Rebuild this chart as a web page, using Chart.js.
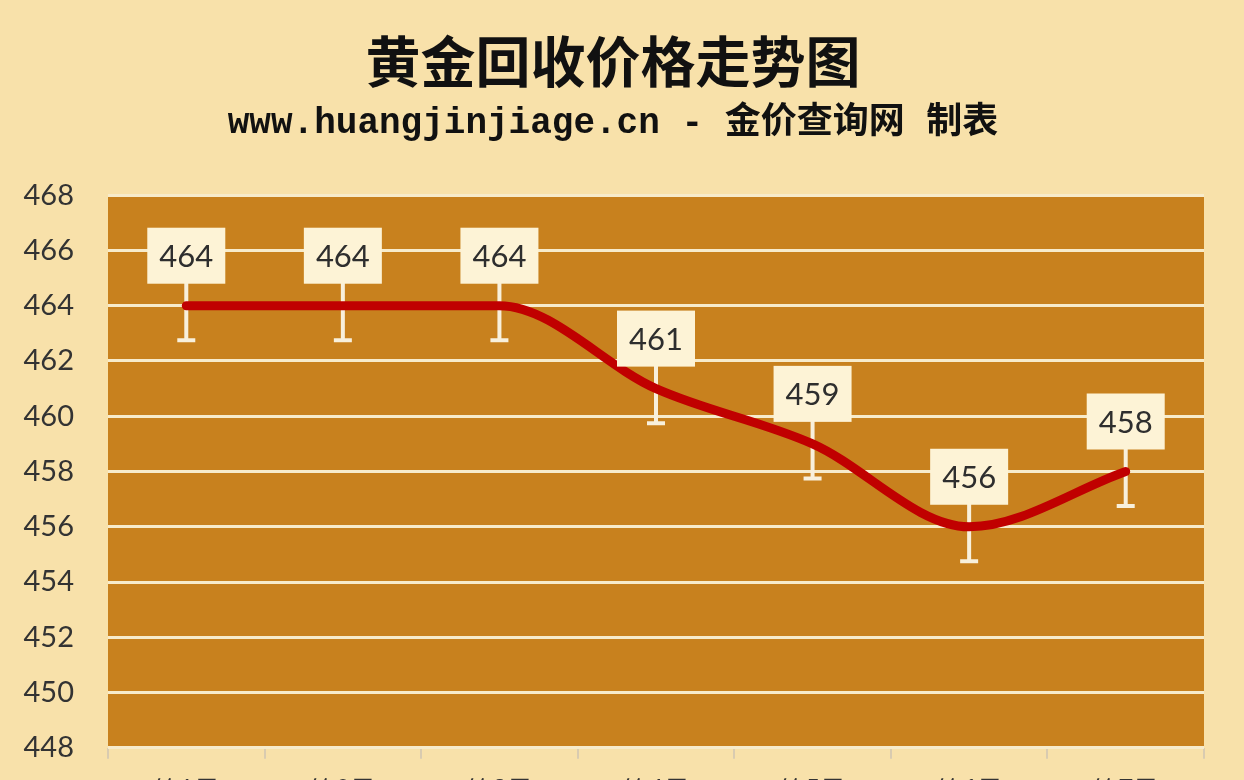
<!DOCTYPE html>
<html>
<head>
<meta charset="utf-8">
<script src="https://cdn.jsdelivr.net/npm/chart.js@4.4.1/dist/chart.umd.min.js"></script>
<style>
  html, body { margin: 0; padding: 0; background: #F8E1AA; overflow: hidden; }
  #wrap { width: 1244px; height: 822px; }
</style>
</head>
<body>
<div id="wrap"><canvas id="goldChart"></canvas></div>
<script>
const titleText = '黄金回收价格走势图';
const subtitleText = 'www.huangjinjiage.cn - 金价查询网 制表';
const days = ['第1天', '第2天', '第3天', '第4天', '第5天', '第6天', '第7天'];
const prices = [464, 464, 464, 461, 459, 456, 458];
const errors = [1.25, 1.25, 1.25, 1.25, 1.25, 1.25, 1.25];
const yTicks = [448, 450, 452, 454, 456, 458, 460, 462, 464, 466, 468];

const plotBg = {
  id: 'plotBg',
  beforeDraw(chart) {
    const { ctx, chartArea: a } = chart;
    ctx.save();
    ctx.fillStyle = '#C8811E';
    ctx.fillRect(a.left, a.top, a.right - a.left, a.bottom - a.top);
    ctx.restore();
  }
};

// whiskers go under the line, label boxes on top
const errorBars = {
  id: 'errorBars',
  beforeDatasetsDraw(chart) {
    const { ctx, scales: { y } } = chart;
    const pts = chart.getDatasetMeta(0).data;
    ctx.save();
    ctx.strokeStyle = '#F8F0DC';
    ctx.lineWidth = 4;
    pts.forEach((p, i) => {
      const top = y.getPixelForValue(prices[i] + errors[i]);
      const bot = y.getPixelForValue(prices[i] - errors[i]);
      ctx.beginPath();
      ctx.moveTo(p.x, top);
      ctx.lineTo(p.x, bot);
      ctx.moveTo(p.x - 9, bot);
      ctx.lineTo(p.x + 9, bot);
      ctx.stroke();
    });
    ctx.restore();
  },
  afterDatasetsDraw(chart) {
    const { ctx } = chart;
    const pts = chart.getDatasetMeta(0).data;
    ctx.save();
    ctx.font = '31px Lato, "Open Sans", sans-serif';
    ctx.textAlign = 'center';
    ctx.textBaseline = 'middle';
    pts.forEach((p, i) => {
      const w = 78, h = 56;
      const bottom = p.y - 22;
      ctx.fillStyle = '#FDF3D6';
      ctx.fillRect(p.x - w / 2, bottom - h, w, h);
      ctx.fillStyle = '#2E2E2E';
      ctx.fillText(String(prices[i]), p.x, bottom - h / 2 + 1);
    });
    ctx.restore();
  }
};

new Chart(document.getElementById('goldChart'), {
  type: 'line',
  data: {
    labels: days,
    datasets: [{
      data: prices,
      borderColor: '#C00000',
      borderWidth: 9,
      borderCapStyle: 'round',
      borderJoinStyle: 'round',
      pointRadius: 0,
      cubicInterpolationMode: 'monotone',
      fill: false
    }]
  },
  options: {
    responsive: true,
    maintainAspectRatio: false,
    animation: false,
    layout: { padding: { left: 22, right: 40, top: 0, bottom: 0 } },
    plugins: {
      legend: { display: false },
      tooltip: { enabled: false },
      title: {
        display: true,
        text: titleText,
        color: '#111',
        font: { family: '"Noto Sans CJK SC"', size: 55, weight: 'bold' },
        padding: { top: 28, bottom: 6 }
      },
      subtitle: {
        display: true,
        text: subtitleText,
        color: '#111',
        font: { family: '"Liberation Mono", "Noto Sans CJK SC"', size: 36, weight: 'bold' },
        padding: { top: 2, bottom: 50 }
      }
    },
    scales: {
      x: {
        offset: true,
        border: { display: false },
        grid: {
          offset: true,
          drawOnChartArea: false,
          drawTicks: true,
          tickLength: 11,
          color: '#D9CBB0',
          lineWidth: 2
        },
        ticks: {
          padding: 16,
          color: '#333',
          font: { family: 'Lato', size: 26 }
        }
      },
      y: {
        min: 448,
        max: 468,
        afterBuildTicks(axis) {
          axis.ticks = yTicks.map(v => ({ value: v }));
        },
        afterFit(axis) {
          axis.width = 86;
        },
        border: { display: false },
        grid: {
          drawTicks: false,
          color: '#F7EBCB',
          lineWidth: 3
        },
        ticks: {
          padding: 34,
          color: '#333',
          font: { family: 'Lato', size: 29 }
        }
      }
    }
  },
  plugins: [plotBg, errorBars]
});
</script>
</body>
</html>
